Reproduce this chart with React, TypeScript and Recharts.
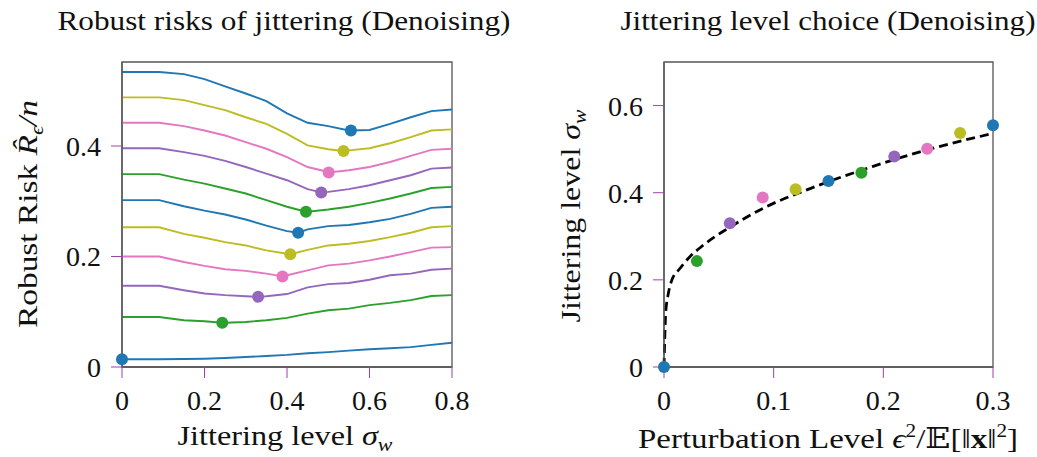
import React from "react";
import {
  ComposedChart,
  Line,
  Scatter,
  Cell,
  XAxis,
  YAxis,
  ReferenceArea,
} from "recharts";

// jittering levels where the curves were read
const sigmaGrid = [0, 0.09, 0.15, 0.2, 0.25, 0.3, 0.35, 0.4, 0.45, 0.5, 0.55, 0.6, 0.65, 0.7, 0.75, 0.8];

// robust risk curves, bottom (eps=0) to top (eps=0.3)
const risk00 = [0.0139, 0.0139, 0.0145, 0.015, 0.0163, 0.018, 0.02, 0.022, 0.025, 0.027, 0.0296, 0.032, 0.034, 0.036, 0.04, 0.044];
const risk03 = [0.0905, 0.0905, 0.0845, 0.0827, 0.0802, 0.0815, 0.0845, 0.089, 0.0965, 0.1026, 0.1056, 0.112, 0.116, 0.121, 0.1285, 0.13];
const risk06 = [0.147, 0.147, 0.139, 0.133, 0.13, 0.128, 0.128, 0.132, 0.144, 0.15, 0.152, 0.158, 0.166, 0.169, 0.176, 0.178];
const risk09 = [0.2, 0.2, 0.19, 0.183, 0.177, 0.174, 0.169, 0.166, 0.175, 0.184, 0.187, 0.193, 0.2, 0.208, 0.216, 0.217];
const risk12 = [0.253, 0.253, 0.241, 0.234, 0.226, 0.22, 0.211, 0.205, 0.212, 0.22, 0.223, 0.228, 0.235, 0.243, 0.253, 0.255];
const risk15 = [0.302, 0.302, 0.291, 0.283, 0.276, 0.267, 0.256, 0.246, 0.249, 0.255, 0.257, 0.262, 0.268, 0.277, 0.288, 0.29];
const risk18 = [0.349, 0.349, 0.339, 0.332, 0.323, 0.314, 0.302, 0.29, 0.281, 0.285, 0.29, 0.297, 0.305, 0.314, 0.324, 0.326];
const risk21 = [0.396, 0.396, 0.389, 0.382, 0.373, 0.362, 0.35, 0.338, 0.322, 0.317, 0.322, 0.329, 0.338, 0.347, 0.359, 0.361];
const risk24 = [0.442, 0.442, 0.436, 0.428, 0.419, 0.407, 0.395, 0.38, 0.362, 0.353, 0.356, 0.362, 0.371, 0.382, 0.393, 0.395];
const risk27 = [0.488, 0.488, 0.483, 0.474, 0.465, 0.452, 0.44, 0.422, 0.401, 0.394, 0.392, 0.396, 0.405, 0.416, 0.428, 0.43];
const risk30 = [0.534, 0.534, 0.53, 0.521, 0.508, 0.495, 0.481, 0.459, 0.442, 0.436, 0.428, 0.429, 0.44, 0.452, 0.463, 0.466];

const riskCurves = [risk00, risk03, risk06, risk09, risk12, risk15, risk18, risk21, risk24, risk27, risk30];

// perturbation levels and the chosen (minimising) jittering level / min risk
const epsLevels = [0, 0.03, 0.06, 0.09, 0.12, 0.15, 0.18, 0.21, 0.24, 0.27, 0.3];
const sigmaStar = [0, 0.243, 0.33, 0.389, 0.408, 0.427, 0.446, 0.483, 0.501, 0.537, 0.555];
const minRisk = [0.0139, 0.08, 0.127, 0.164, 0.204, 0.243, 0.281, 0.316, 0.352, 0.391, 0.428];

// dashed theory curve on the right
const theoryEps = [0, 0.0009, 0.0015, 0.004, 0.0071, 0.0145, 0.0236, 0.034, 0.0464, 0.057, 0.0933, 0.1297, 0.19, 0.251, 0.3];
const theorySigma = [0, 0.084, 0.123, 0.169, 0.199, 0.226, 0.253, 0.276, 0.299, 0.316, 0.368, 0.406, 0.46, 0.506, 0.536];

const leftXTicks = [0, 0.2, 0.4, 0.6, 0.8];
const leftYTicks = [0, 0.2, 0.4];
const rightXTicks = [0, 0.1, 0.2, 0.3];
const rightYTicks = [0, 0.2, 0.4, 0.6];

const palette = ["#1f77b4", "#2ca02c", "#9467bd", "#e377c2", "#bcbd22"];
const FONT = "Liberation Serif, DejaVu Serif, serif";
const TICK_COLOR = "#a23fab";
const SPINE = "#555";

const fmt = (v: number) => (v === 0 ? "0" : String(v));

const curveData = riskCurves.map((ys, i) => {
  const pts = sigmaGrid.map((x, j) => ({ x, y: ys[j] }));
  if (!pts.some((p) => p.x === sigmaStar[i])) pts.push({ x: sigmaStar[i], y: minRisk[i] });
  return pts.sort((a, b) => a.x - b.x);
});
const minData = sigmaStar.map((x, i) => ({ x, y: minRisk[i] }));
const choiceData = epsLevels.map((x, i) => ({ x, y: sigmaStar[i] }));
const theoryData = theoryEps.map((x, i) => ({ x, y: theorySigma[i] }));

const tickStyle = { fill: "#111", fontSize: 28, fontFamily: FONT };

const Dot = (p: any) => <circle cx={p.cx} cy={p.cy} r={6} fill={p.fill} />;

function RiskPanel() {
  return (
    <ComposedChart width={520} height={457} margin={{ top: 62, right: 68, bottom: 0, left: 0 }}>
      <XAxis
        type="number"
        dataKey="x"
        domain={[0, 0.8]}
        ticks={leftXTicks}
        tickFormatter={fmt}
        height={90}
        tickSize={11}
        tickMargin={12}
        tick={tickStyle}
        tickLine={{ stroke: TICK_COLOR }}
        axisLine={{ stroke: SPINE, strokeWidth: 1.3 }}
      />
      <YAxis
        type="number"
        dataKey="y"
        domain={[0, 0.552]}
        ticks={leftYTicks}
        tickFormatter={fmt}
        width={122}
        tickSize={11}
        tickMargin={10}
        tick={tickStyle}
        tickLine={{ stroke: TICK_COLOR }}
        axisLine={{ stroke: SPINE, strokeWidth: 1.3 }}
      />
      <ReferenceArea x1={0} x2={0.8} y1={0} y2={0.552} fill="none" stroke={SPINE} strokeWidth={1.3} />
      {curveData.map((d, i) => (
        <Line
          key={i}
          data={d}
          dataKey="y"
          type="linear"
          stroke={palette[i % 5]}
          strokeWidth={1.9}
          dot={false}
          isAnimationActive={false}
        />
      ))}
      <Scatter data={minData} dataKey="y" shape={Dot} isAnimationActive={false}>
        {minData.map((_, i) => (
          <Cell key={i} fill={palette[i % 5]} />
        ))}
      </Scatter>
    </ComposedChart>
  );
}

function ChoicePanel() {
  return (
    <ComposedChart width={517} height={457} margin={{ top: 62, right: 44, bottom: 0, left: 0 }}>
      <XAxis
        type="number"
        dataKey="x"
        domain={[0, 0.3]}
        ticks={rightXTicks}
        tickFormatter={fmt}
        height={90}
        tickSize={11}
        tickMargin={12}
        tick={tickStyle}
        tickLine={{ stroke: TICK_COLOR }}
        axisLine={{ stroke: SPINE, strokeWidth: 1.3 }}
      />
      <YAxis
        type="number"
        dataKey="y"
        domain={[0, 0.7]}
        ticks={rightYTicks}
        tickFormatter={fmt}
        width={144}
        tickSize={11}
        tickMargin={10}
        tick={tickStyle}
        tickLine={{ stroke: TICK_COLOR }}
        axisLine={{ stroke: SPINE, strokeWidth: 1.3 }}
      />
      <ReferenceArea x1={0} x2={0.3} y1={0} y2={0.7} fill="none" stroke={SPINE} strokeWidth={1.3} />
      <Line
        data={theoryData}
        dataKey="y"
        type="monotone"
        stroke="#000"
        strokeWidth={2.8}
        strokeDasharray="9 5"
        dot={false}
        isAnimationActive={false}
      />
      <Scatter data={choiceData} dataKey="y" shape={Dot} isAnimationActive={false}>
        {choiceData.map((_, i) => (
          <Cell key={i} fill={palette[i % 5]} />
        ))}
      </Scatter>
    </ComposedChart>
  );
}

export default function App() {
  const label = { fontFamily: FONT, fill: "#111" } as const;
  return (
    <div style={{ position: "absolute", left: 0, top: 0, width: 1037, height: 457, background: "#fff" }}>
      <div style={{ position: "absolute", left: 0, top: 0 }}>
        <RiskPanel />
      </div>
      <div style={{ position: "absolute", left: 520, top: 0 }}>
        <ChoicePanel />
      </div>
      <svg width={1037} height={457} style={{ position: "absolute", left: 0, top: 0, pointerEvents: "none" }}>
        <text x={284} y={30} fontSize={27} textAnchor="middle" textLength={453} lengthAdjust="spacingAndGlyphs" {...label}>
          Robust risks of jittering (Denoising)
        </text>
        <text x={828} y={30} fontSize={27} textAnchor="middle" textLength={415} lengthAdjust="spacingAndGlyphs" {...label}>
          Jittering level choice (Denoising)
        </text>
        <text
          transform="translate(37,214) rotate(-90)"
          fontSize={28}
          textAnchor="middle"
          textLength={228}
          lengthAdjust="spacingAndGlyphs"
          {...label}
        >
          Robust Risk <tspan fontStyle="italic">R̂</tspan>
          <tspan fontStyle="italic" fontSize={19} dy={6}>ϵ</tspan>
          <tspan fontStyle="italic" dy={-6}>/n</tspan>
        </text>
        <text x={285} y={445} fontSize={28} textAnchor="middle" textLength={215} lengthAdjust="spacingAndGlyphs" {...label}>
          Jittering level <tspan fontStyle="italic">σ</tspan>
          <tspan fontStyle="italic" fontSize={19} dy={6}>w</tspan>
        </text>
        <text
          transform="translate(580,216) rotate(-90)"
          fontSize={28}
          textAnchor="middle"
          textLength={213}
          lengthAdjust="spacingAndGlyphs"
          {...label}
        >
          Jittering level <tspan fontStyle="italic">σ</tspan>
          <tspan fontStyle="italic" fontSize={19} dy={6}>w</tspan>
        </text>
        <text x={828} y={448} fontSize={28} textAnchor="middle" textLength={380} lengthAdjust="spacingAndGlyphs" {...label}>
          Perturbation Level <tspan fontStyle="italic">ϵ</tspan>
          <tspan fontSize={18} dy={-11}>2</tspan>
          <tspan dy={11}>/𝔼[‖</tspan>
          <tspan fontWeight="bold">x</tspan>
          <tspan>‖</tspan>
          <tspan fontSize={18} dy={-11}>2</tspan>
          <tspan dy={11}>]</tspan>
        </text>
      </svg>
    </div>
  );
}
